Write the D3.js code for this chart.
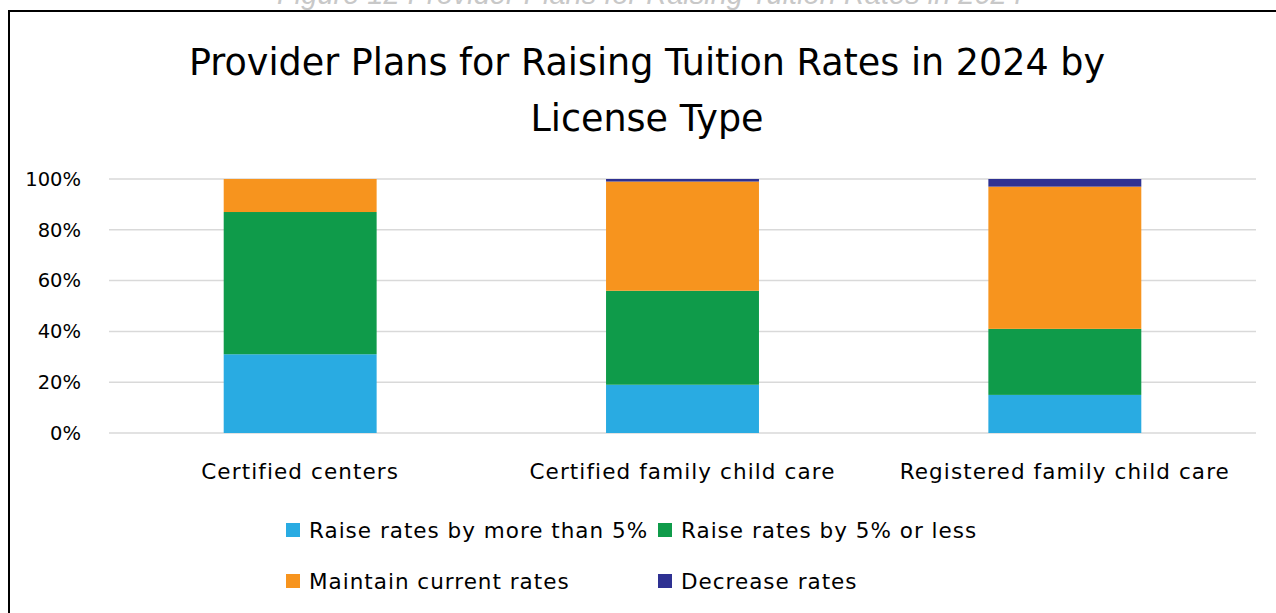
<!DOCTYPE html>
<html>
<head>
<meta charset="utf-8">
<script src="https://cdn.jsdelivr.net/npm/d3@7"></script>
<style>
  html, body { margin: 0; padding: 0; background: #fff; }
  svg { display: block; font-family: "DejaVu Sans", sans-serif; }
</style>
</head>
<body>
<svg id="chart" width="1276" height="613"></svg>
<script>
// Share of providers (%) by license type and tuition plan
const categories = ["Certified centers", "Certified family child care", "Registered family child care"];
const seriesNames = ["Raise rates by more than 5%", "Raise rates by 5% or less", "Maintain current rates", "Decrease rates"];
const raiseMore = [31, 19, 15];
const raiseLess = [56, 37, 26];
const maintain  = [13, 43, 56];
const decrease  = [0, 1, 3];
const yTicks = [0, 20, 40, 60, 80, 100];
const colors = ["#29abe2", "#0f9b4a", "#f7941e", "#2e3192"];

const rows = categories.map((c, i) => ({
  category: c,
  [seriesNames[0]]: raiseMore[i],
  [seriesNames[1]]: raiseLess[i],
  [seriesNames[2]]: maintain[i],
  [seriesNames[3]]: decrease[i]
}));

const svg = d3.select("#chart");
const W = 1276, H = 613;
const plot = { left: 109, right: 1256, top: 179, bottom: 433 };

// Outer frame (runs off the right and bottom edges)
svg.append("path")
  .attr("d", `M9,${H + 5} V11 H${W + 5}`)
  .attr("fill", "none").attr("stroke", "#000").attr("stroke-width", 2);

// Figure caption above the frame
svg.append("text")
  .attr("x", 650).attr("y", 4)
  .attr("text-anchor", "middle")
  .attr("font-family", "'Liberation Sans', Arial, sans-serif")
  .attr("font-size", 29).attr("font-style", "italic")
  .attr("fill", "#c8c8c8")
  .text("Figure 12 Provider Plans for Raising Tuition Rates in 2024");

// Title
const title = svg.append("text")
  .attr("text-anchor", "middle")
  .attr("font-size", 36.5).attr("fill", "#000");
title.append("tspan").attr("x", 647).attr("y", 75)
  .text("Provider Plans for Raising Tuition Rates in 2024 by");
title.append("tspan").attr("x", 647).attr("y", 131)
  .text("License Type");

const x = d3.scaleBand().domain(categories).range([plot.left, plot.right]).paddingInner(0.6).paddingOuter(0.3);
const y = d3.scaleLinear().domain([0, 100]).range([plot.bottom, plot.top]);

// Gridlines
svg.append("g")
  .selectAll("line").data(yTicks).join("line")
  .attr("x1", plot.left).attr("x2", plot.right)
  .attr("y1", d => y(d)).attr("y2", d => y(d))
  .attr("stroke", "#d9d9d9").attr("stroke-width", 1.5);

// Y axis labels
const yAxis = svg.append("g")
  .attr("transform", `translate(${plot.left - 28},0)`)
  .call(d3.axisLeft(y).tickValues(yTicks).tickFormat(d => d + "%").tickSize(0).tickPadding(0));
yAxis.select(".domain").remove();
yAxis.selectAll("text").attr("font-size", 19.5).attr("fill", "#000")
  .attr("font-family", "'DejaVu Sans', sans-serif");

// Stacked bars
const stack = d3.stack().keys(seriesNames)(rows);
svg.append("g")
  .selectAll("g").data(stack).join("g")
  .attr("fill", (d, i) => colors[i])
  .selectAll("rect").data(d => d).join("rect")
  .attr("x", d => x(d.data.category))
  .attr("width", x.bandwidth())
  .attr("y", d => y(d[1]))
  .attr("height", d => Math.max(0, y(d[0]) - y(d[1])));

// Category labels
const xAxis = svg.append("g")
  .attr("transform", `translate(0,${plot.bottom + 31})`)
  .call(d3.axisBottom(x).tickSize(0).tickPadding(0));
xAxis.select(".domain").remove();
xAxis.selectAll("text").attr("font-size", 21.5).attr("fill", "#000")
  .attr("letter-spacing", 1.1)
  .attr("font-family", "'DejaVu Sans', sans-serif");

// Legend
const legendPos = [[286, 530], [658, 530], [286, 581], [658, 581]];
const legend = svg.append("g").selectAll("g").data(seriesNames).join("g")
  .attr("transform", (d, i) => `translate(${legendPos[i][0]},${legendPos[i][1]})`);
legend.append("rect").attr("x", 0).attr("y", -7).attr("width", 14).attr("height", 14)
  .attr("fill", (d, i) => colors[i]);
legend.append("text").attr("x", 23).attr("y", 0).attr("dy", "0.35em")
  .attr("font-size", 21.5).attr("letter-spacing", 1)
  .attr("fill", "#000").text(d => d);
</script>
</body>
</html>
